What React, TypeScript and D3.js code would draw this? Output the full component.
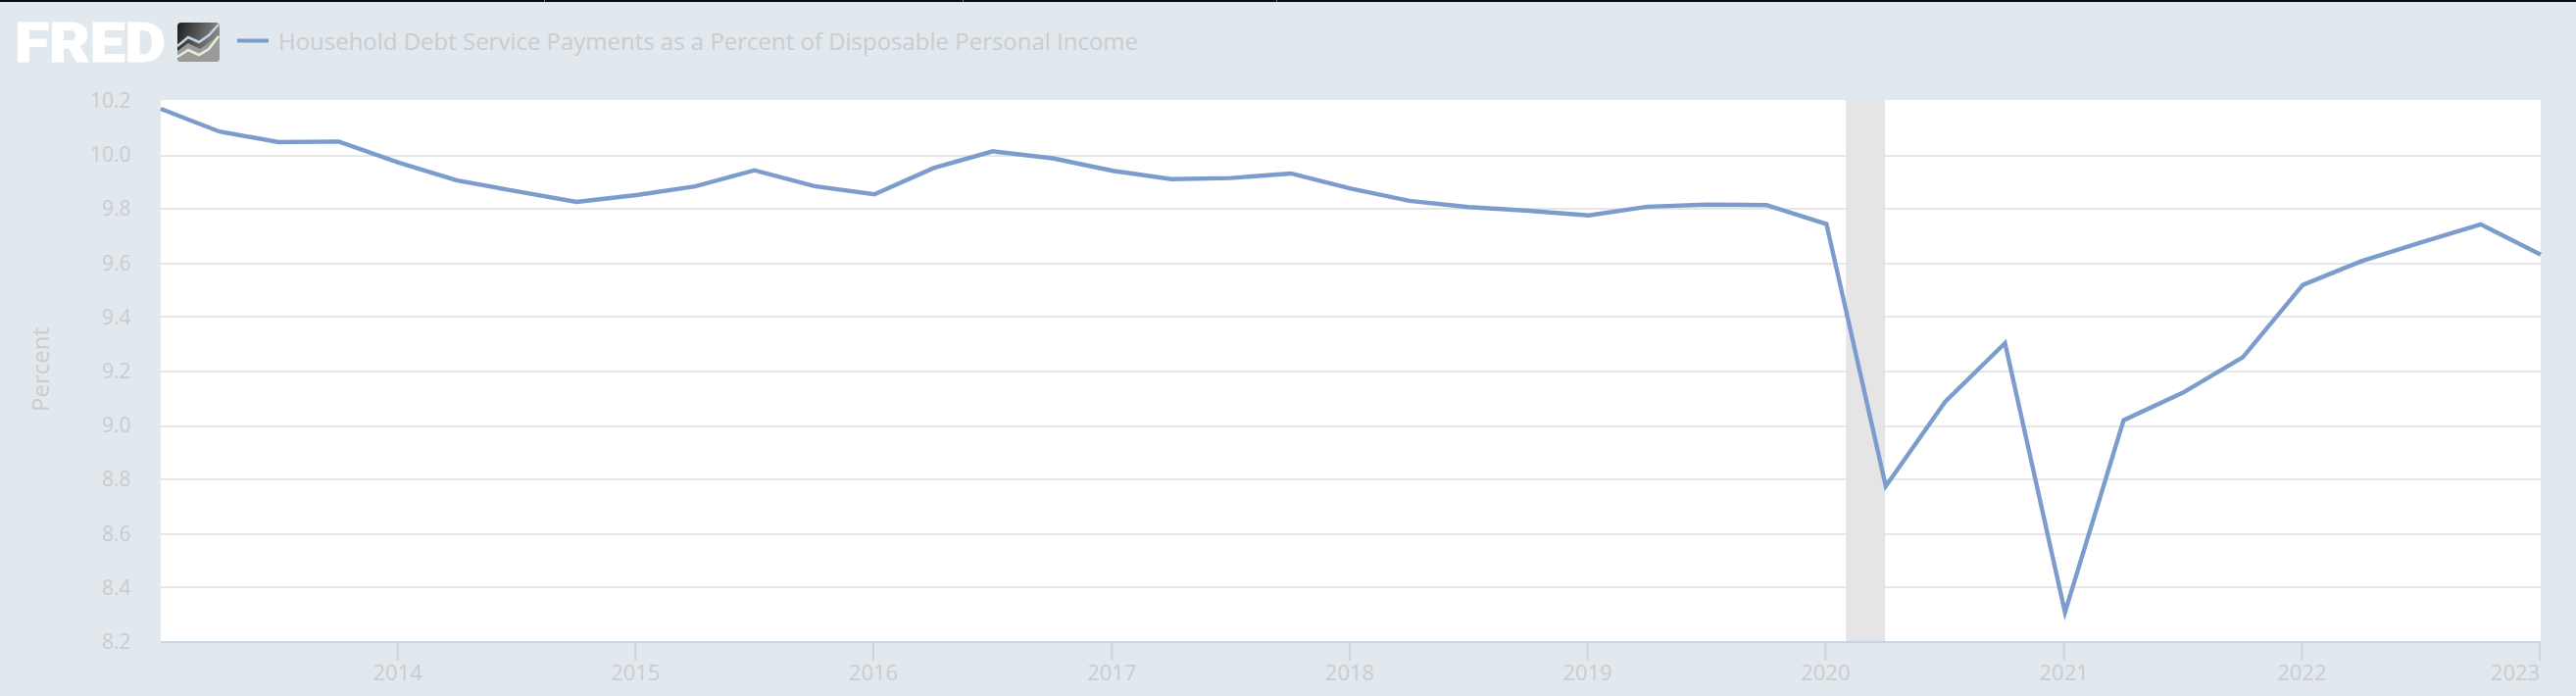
import React from "react";
import * as d3 from "d3";

const W = 2628, H = 710;
const quarters = ["2013-01","2013-04","2013-07","2013-10","2014-01","2014-04","2014-07","2014-10","2015-01","2015-04","2015-07","2015-10","2016-01","2016-04","2016-07","2016-10","2017-01","2017-04","2017-07","2017-10","2018-01","2018-04","2018-07","2018-10","2019-01","2019-04","2019-07","2019-10","2020-01","2020-04","2020-07","2020-10","2021-01","2021-04","2021-07","2021-10","2022-01","2022-04","2022-07","2022-10","2023-01"];
const values = [10.171,10.087,10.048,10.05,9.972,9.906,9.866,9.827,9.852,9.884,9.944,9.885,9.855,9.952,10.014,9.988,9.942,9.911,9.915,9.932,9.876,9.831,9.808,9.794,9.777,9.809,9.817,9.815,9.745,8.776,9.088,9.305,8.31,9.02,9.122,9.253,9.52,9.608,9.677,9.744,9.632];
const yTicks = [8.2,8.4,8.6,8.8,9.0,9.2,9.4,9.6,9.8,10.0,10.2];
const xTicks = ["2014","2015","2016","2017","2018","2019","2020","2021","2022","2023"];
const recession = ["2020-02","2020-04"];
const title = "Household Debt Service Payments as a Percent of Disposable Personal Income";
const yLabel = "Percent";
const topNotches = [555, 982, 1302];

const TXT = "#cccccc";
const LINE = "#7c9ccc";
const font = "'Open Sans', sans-serif";
const parse = d3.utcParse("%Y-%m");
const snap = (v: number) => 2 * Math.round((v - 1) / 2) + 1;

export default function App() {
  const x = d3.scaleUtc().domain([parse("2013-01")!, parse("2023-01")!]).range([164, 2592]);
  const y = d3.scaleLinear().domain([8.2, 10.2]).range([655, 103]);
  const line = d3.line<number>().x((_, i) => x(parse(quarters[i])!)).y(d => y(d));
  const rx0 = x(parse(recession[0])!) - 0.7, rx1 = x(parse(recession[1])!) - 0.7;
  return (
    <svg width={W} height={H} viewBox={`0 0 ${W} ${H}`} style={{ position: "absolute", left: 0, top: 0, display: "block" }}>
      <defs>
        <linearGradient id="iconGrad" x1="0" x2="1" y1="0" y2="0.3">
          <stop offset="0" stopColor="#1c1c1e" />
          <stop offset="1" stopColor="#8c8c8c" />
        </linearGradient>
      </defs>
      <rect width={W} height={H} fill="#e1e8ee" />
      <rect width={W} height={2} fill="#0c0c0c" />
      {topNotches.map(n => <rect key={n} x={n} y={0} width={1} height={2} fill="#777" />)}
      <text x={15} y={63} fontFamily="'Roboto', sans-serif" fontWeight={900} fontSize={55} fill="#fff" stroke="#fff" strokeWidth={1} textLength={154} lengthAdjust="spacingAndGlyphs">FRED</text>
      <rect x={181} y={23} width={43} height={40} rx={4} fill="url(#iconGrad)" />
      <path d="M181 58 V52 L192 44 L204 50 L224 36 V59 a4 4 0 0 1 -4 4 H185 a4 4 0 0 1 -4 -4 Z" fill="#9a9a9a" />
      <polyline points="181,47 192,38 203,43 213,36 223,25" fill="none" stroke="#c3d2e4" strokeWidth={2.5} />
      <polyline points="181,58 192,51 203,56 213,50 223,37" fill="none" stroke="#e6edd2" strokeWidth={2.5} />
      <line x1={242} x2={274} y1={41.5} y2={41.5} stroke={LINE} strokeWidth={4} />
      <text x={284} y={51} fontFamily={font} fontSize={24} fill={TXT} textLength={877} lengthAdjust="spacingAndGlyphs">{title}</text>

      <rect x={164} y={102} width={2428} height={553} fill="#fff" />
      {yTicks.slice(1, -1).map(t => (
        <line key={t} x1={164} x2={2592} y1={snap(y(t))} y2={snap(y(t))} stroke="#e6e6e6" strokeWidth={2} />
      ))}
      <rect x={rx0} y={102} width={rx1 - rx0} height={553} fill="#e5e5e5" />
      <line x1={164} x2={2592} y1={655} y2={655} stroke="#c8d5e3" strokeWidth={2} />
      {xTicks.map(t => {
        const px = x(parse(t + "-01")!);
        return (
          <g key={t}>
            <line x1={px - 1} x2={px - 1} y1={655} y2={674} stroke="#c8d5e3" strokeWidth={2} />
            <text x={Math.min(px - 1, 2566)} y={694} textAnchor="middle" fontFamily={font} fontSize={22} fill={TXT}>{t}</text>
          </g>
        );
      })}
      {yTicks.map(t => (
        <text key={t} x={133.5} y={y(t) + 7} textAnchor="end" fontFamily={font} fontSize={21} fill={TXT}>{t.toFixed(1)}</text>
      ))}
      <text transform="translate(50,377) rotate(-90)" textAnchor="middle" fontFamily={font} fontSize={24} fill={TXT}>{yLabel}</text>
      <path d={line(values)!} fill="none" stroke={LINE} strokeWidth={4.4} strokeLinejoin="miter" />
    </svg>
  );
}
